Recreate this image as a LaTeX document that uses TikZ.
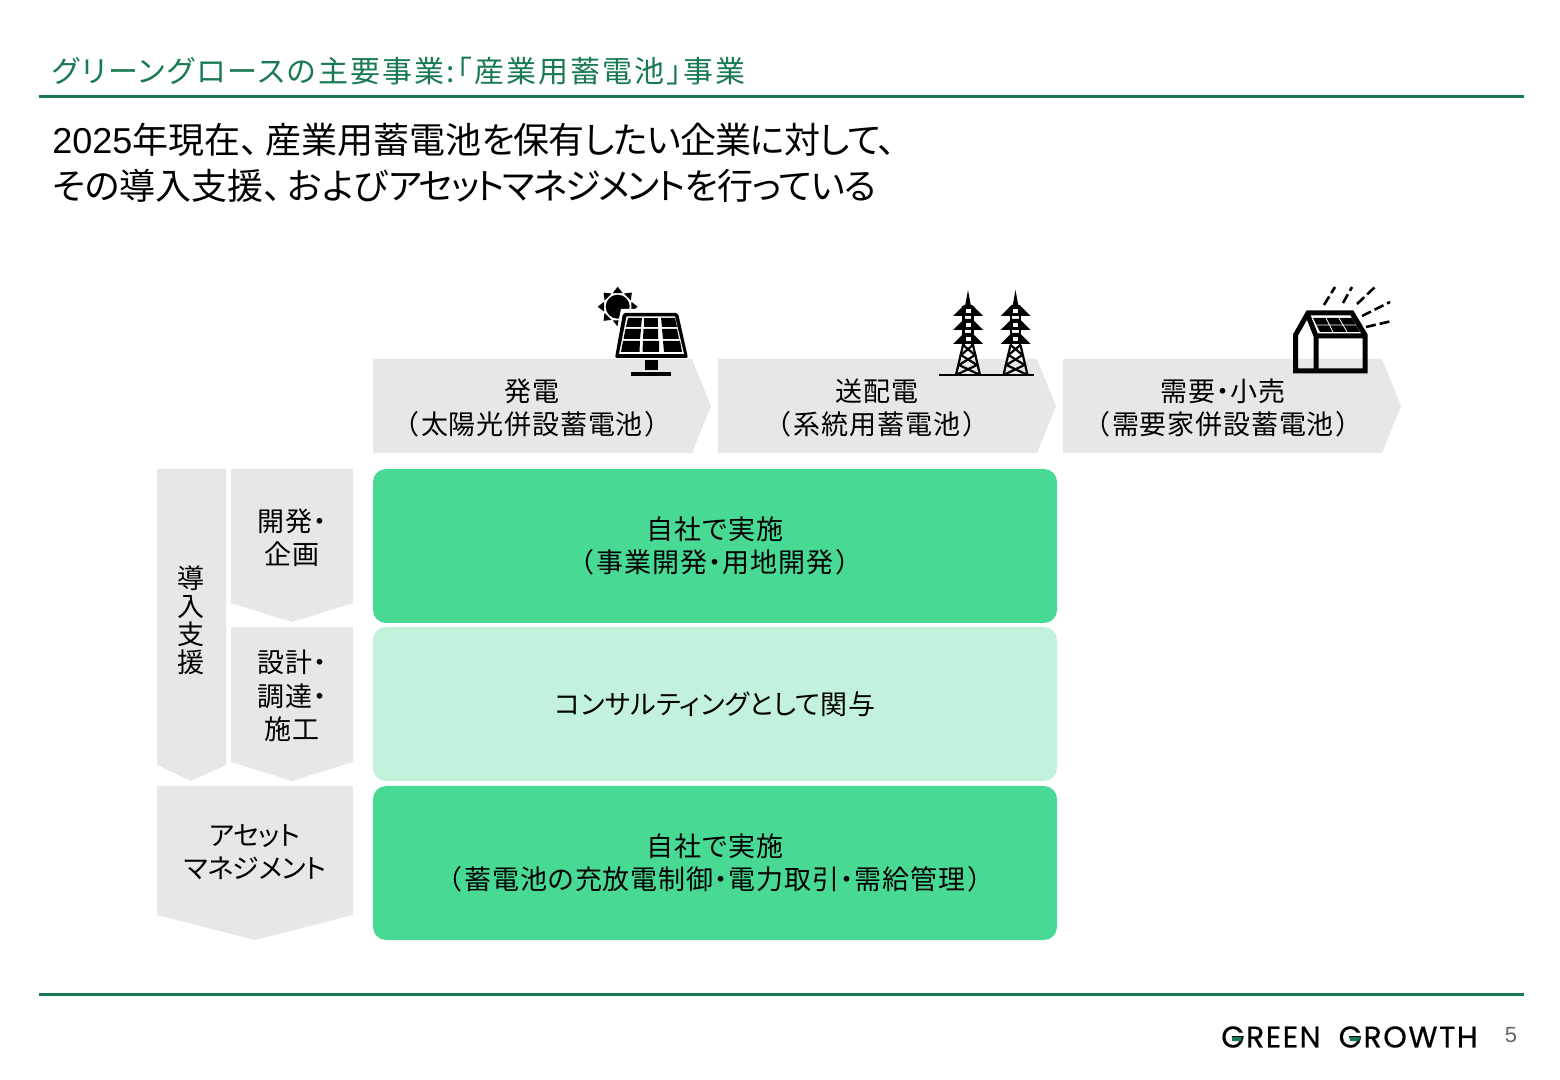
\documentclass[tikz,border=0pt]{standalone}
\usepackage{fontspec}
\usetikzlibrary{calc}
\setmainfont{Noto Sans CJK JP}[RawFeature={+palt},LetterSpace=3]
\newfontfamily\leadfont{Noto Sans CJK JP}[RawFeature={+palt}]
\newfontfamily\tailfont{Noto Sans CJK JP}[RawFeature={+palt},LetterSpace=-2.5]
\newfontfamily\titlefont{Noto Sans CJK JP}[RawFeature={+palt},LetterSpace=7]
\newfontfamily\kanafont{Noto Sans CJK JP}[RawFeature={+palt},LetterSpace=-6]
\newfontfamily\assetfont{Noto Sans CJK JP}[RawFeature={+palt},LetterSpace=-2]
\newfontfamily\plainfont{Noto Sans CJK JP}[RawFeature={+palt},LetterSpace=1]
\newfontfamily\latinfont{Liberation Sans}
\newfontfamily\logofont{Poppins}[LetterSpace=5,FakeBold=0.4]
\newcommand{\lpar}{（\hspace{1.5pt}}
\newcommand{\rpar}{\hspace{1.5pt}）}
\newcommand{\middot}{\hspace{.5pt}・\hspace{.5pt}}
\definecolor{ggreen}{HTML}{187A50}
\definecolor{bargray}{HTML}{E7E7E7}
\definecolor{boxgreen}{HTML}{48D995}
\definecolor{boxlight}{HTML}{C2F2DC}
\tikzset{
  bar/.style={fill=bargray},
  rule/.style={draw=ggreen,line width=1.5pt},
  label/.style={align=center,inner sep=0pt,text=black,font=\fontsize{13.5}{16.75}\selectfont},
  box/.style={label,rounded corners=6.5pt,minimum width=342pt,minimum height=77pt},
  wire/.style={draw=black,line width=1.1pt},
}
\begin{document}
\begin{tikzpicture}[x=0.5pt,y=-0.5pt]
  \useasboundingbox (0,0) rectangle (1560,1080);
  % header
  \node (title) [anchor=west,inner sep=0pt,text=ggreen,font=\titlefont\fontsize{15}{18}\selectfont] at (52,71)
    {グリーングロースの主要事業:「産業用蓄電池」事業};
  \draw[rule] (39,96.5) -- (1524,96.5);
  \node (lead) [anchor=north west,inner sep=0pt,align=left,font=\leadfont\fontsize{18}{23}\selectfont] at (52,123)
    {{\latinfont 2025}年現在、\hspace{3.5pt}産業用蓄電池{\tailfont を保有したい企業に対して、}\\その導入支援、\hspace{3pt}および{\kanafont アセットマネジメント}{\tailfont を行っている}};
  % value chain
  \foreach \x in {373,718,1063}
    \fill[bar] (\x,359) -- ++(319,0) -- ++(19,47) -- ++(-19,47) -- ++(-319,0) -- cycle;
  \node (gen) [label] at (532,408) {発電\\\lpar 太陽光併設蓄電池\rpar};
  \node (grid) [label] at (877,408) {送配電\\\lpar 系統用蓄電池\rpar};
  \node (retail) [label] at (1223,408) {需要\middot 小売\\\lpar 需要家併設蓄電池\rpar};
  % phases
  \fill[bar] (157,469) -- (226,469) -- (226,765) -- (191,781) -- (157,765) -- cycle;
  \fill[bar] (231,469) -- (353,469) -- (353,603) -- (292,622) -- (231,603) -- cycle;
  \fill[bar] (231,627) -- (353,627) -- (353,762) -- (292,781) -- (231,762) -- cycle;
  \fill[bar] (157,786) -- (353,786) -- (353,915) -- (255,940) -- (157,915) -- cycle;
  \node (support) [label,font=\fontsize{13.5}{14}\selectfont] at (191,620) {導\\入\\支\\援};
  \node (plan) [label] at (292,538) {開発・\\企画};
  \node (build) [label] at (292,696) {設計・\\調達・\\施工};
  \node (asset) [label,font=\assetfont\fontsize{13.5}{16.75}\selectfont] at (255,852) {アセット\\マネジメント};
  % boxes
  \node (own1) [box,fill=boxgreen] at (715,546) {自社で実施\\\lpar 事業開発\middot 用地開発\rpar};
  \node (consult) [box,fill=boxlight,font=\plainfont\fontsize{13.5}{16.75}\selectfont] at (715,704) {コンサルティングとして関与};
  \node (own2) [box,fill=boxgreen] at (715,863) {自社で実施\\\lpar 蓄電池の充放電制御\middot 電力取引\middot 需給管理\rpar};
  % solar icon
  \foreach \a in {0,45,...,315}
    \fill ($(617.7,306.7)+(\a:20)$) -- ($(617.7,306.7)+(\a+20:14.5)$) -- ($(617.7,306.7)+(\a-20:14.5)$) -- cycle;
  \fill (617.7,306.7) circle (12);
  \fill[white] (621,309) -- (680,309) -- (693,358) -- (611,358) -- cycle;
  \fill[rounded corners=1pt] (623,313) -- (678,313) -- (688,358) -- (615,358) -- cycle;
  \fill[white] (626.5,316.5) -- (675,316.5) -- (684,354) -- (619,354) -- cycle;
  \fill (628,318) -- (642,318) -- (641,327) -- (626,327) -- cycle;
  \fill (644,318) -- (658,318) -- (658,327) -- (644,327) -- cycle;
  \fill (661,318) -- (675,318) -- (677,327) -- (662,327) -- cycle;
  \fill (625.5,329) -- (641,329) -- (640,339) -- (623.5,339) -- cycle;
  \fill (643.5,329) -- (658,329) -- (658,339) -- (643,339) -- cycle;
  \fill (662,329) -- (677,329) -- (679,339) -- (663,339) -- cycle;
  \fill (623,341) -- (640,341) -- (639.5,352) -- (621,352) -- cycle;
  \fill (643,341) -- (659,341) -- (659,352) -- (642.5,352) -- cycle;
  \fill (663,341) -- (680,341) -- (682,352) -- (664,352) -- cycle;
  \fill (645,360) rectangle (658,370);
  \fill (631,372) rectangle (671,376);
  % tower icons
  \foreach \x in {968,1015.5} {
    \fill (\x,290) -- (\x+4,312) -- (\x-4,312) -- cycle;
    \draw[wire] (\x-4.5,306) -- (\x-4.5,346) (\x+4.5,306) -- (\x+4.5,346);
    \foreach \y in {315,329,343} {
      \fill (\x-15,\y+1) -- (\x-4,\y-10) -- (\x+4,\y-10) -- (\x+15,\y+1) -- cycle;
      \fill[white] (\x-2.5,\y-6) rectangle (\x+2.5,\y-1.5);
    }
    \draw[wire] (\x-5,345) -- (\x-12,375);
    \draw[wire] (\x+5,345) -- (\x+12,375);
    \draw[wire] (\x-5,345) -- (\x+7,355) -- (\x-9,365) -- (\x+12,375);
    \draw[wire] (\x+5,345) -- (\x-7,355) -- (\x+9,365) -- (\x-12,375);
  }
  \draw[line width=1pt] (939,375) -- (1034,375);
  % house icon
  \draw[line width=2.5pt,line join=miter] (1295.5,371) -- (1295.5,335) -- (1308,313) -- (1352,313) -- (1365,335) -- (1365,371) -- cycle;
  \draw[line width=2.5pt] (1316,371) -- (1316,336) -- (1307,313) (1316,336) -- (1365,336);
  \fill (1313,318) -- (1352,318) -- (1360,332) -- (1320,332) -- cycle;
  \draw[white,line width=0.4pt] (1316.5,325) -- (1356,325) (1326,318) -- (1333,332) (1339,318) -- (1347,332);
  \draw[line width=1.3pt,dash pattern=on 5pt off 2pt]
    (1324,305) -- (1335,287) (1343,303) -- (1352,287) (1357,304) -- (1375,287)
    (1362,316) -- (1390,302) (1366,327) -- (1392,321);
  % footer
  \draw[rule] (39,994.5) -- (1524,994.5);
  \node (logo) [anchor=east,inner sep=0pt,font=\logofont\fontsize{15}{18}\selectfont] at (1478,1037) {GREEN\hspace{9pt}GROWTH};
  \fill[ggreen] (1232,1037) -- (1242,1037) -- (1241,1041) -- (1232,1041) -- cycle;
  \fill[ggreen] (1350,1037) -- (1360,1037) -- (1359,1041) -- (1350,1041) -- cycle;
  \node (page) [anchor=center,inner sep=0pt,text=black!60,font=\latinfont\fontsize{11}{13}\selectfont] at (1511,1035) {5};
\end{tikzpicture}
\end{document}
